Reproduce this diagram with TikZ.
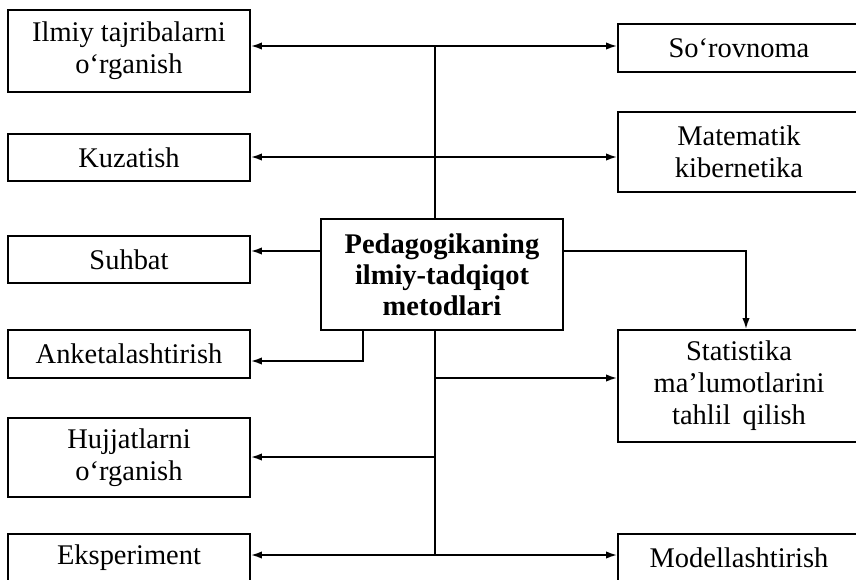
\documentclass[tikz,border=0pt]{standalone}
\usepackage{fontspec}
\setmainfont{Liberation Serif}
\usetikzlibrary{arrows.meta}
\begin{document}
\begin{tikzpicture}[
        box/.style={draw, line width=1.5pt, minimum width=7.26cm, inner sep=0pt, align=center, font=\fontsize{24.3}{27.3}\selectfont},
        mainbox/.style={box, font=\fontsize{24.3}{26.4}\selectfont\bfseries},
        arr/.style={line width=1.5pt, -{Latex[length=0.33cm,width=0.22cm]}},
        ln/.style={line width=1.5pt}
    ]
            \useasboundingbox (0,0) rectangle (25.68,-17.37);
            \node[box, minimum height=2.46cm] (ilmiy) at (3.87,-1.53) {Ilmiy tajribalarni\\o‘rganish};
            \node[box, minimum height=1.41cm] (kuzatish) at (3.87,-4.725) {Kuzatish};
            \node[box, minimum height=1.41cm] (suhbat) at (3.87,-7.785) {Suhbat};
            \node[box, minimum height=1.44cm] (anketa) at (3.87,-10.62) {Anketalashtirish};
            \node[box, minimum height=2.37cm] (hujjat) at (3.87,-13.725) {Hujjatlarni\\o‘rganish};
            \node[box, minimum height=1.41cm] (eksperiment) at (3.87,-16.725) {Eksperiment};
            \node[box, minimum height=1.44cm] (sorovnoma) at (22.17,-1.44) {So‘rovnoma};
            \node[box, minimum height=2.4cm] (matematik) at (22.17,-4.56) {Matematik\\kibernetika};
            \node[box, minimum height=3.36cm] (statistika) at (22.17,-11.58) {Statistika\\ma’lumotlarini\\tahlil\, qilish};
            \node[box, minimum height=1.41cm] (model) at (22.17,-16.725) {Modellashtirish};
            \node[mainbox, minimum height=3.33cm] (metod) at (13.26,-8.235) {Pedagogikaning\\ilmiy-tadqiqot\\metodlari};
            \coordinate (t1) at (13.05,-1.38);
            \coordinate (t2) at (13.05,-4.71);
            \coordinate (t3) at (13.05,-11.34);
            \coordinate (t4) at (13.05,-13.71);
            \coordinate (t5) at (13.05,-16.65);
            \draw[ln] (t1) -- (t1 |- metod.north);
            \draw[ln] (t5 |- metod.south) -- (t5);
            \draw[arr] (t1) -- (t1 -| ilmiy.east);
            \draw[arr] (t1) -- (t1 -| sorovnoma.west);
            \draw[arr] (t2) -- (t2 -| kuzatish.east);
            \draw[arr] (t2) -- (t2 -| matematik.west);
            \draw[arr] (t3) -- (t3 -| statistika.west);
            \draw[arr] (t4) -- (t4 -| hujjat.east);
            \draw[arr] (t5) -- (t5 -| eksperiment.east);
            \draw[arr] (t5) -- (t5 -| model.west);
            \draw[arr] ([yshift=0.705cm]metod.west) -- ([yshift=0.705cm]metod.west -| suhbat.east);
            \draw[arr] ([yshift=0.705cm]metod.east) -| ([xshift=0.21cm]statistika.north);
            \draw[arr] ([xshift=-2.37cm]metod.south) |- ([yshift=-0.21cm]anketa.east);
        \end{tikzpicture}
\end{document}
